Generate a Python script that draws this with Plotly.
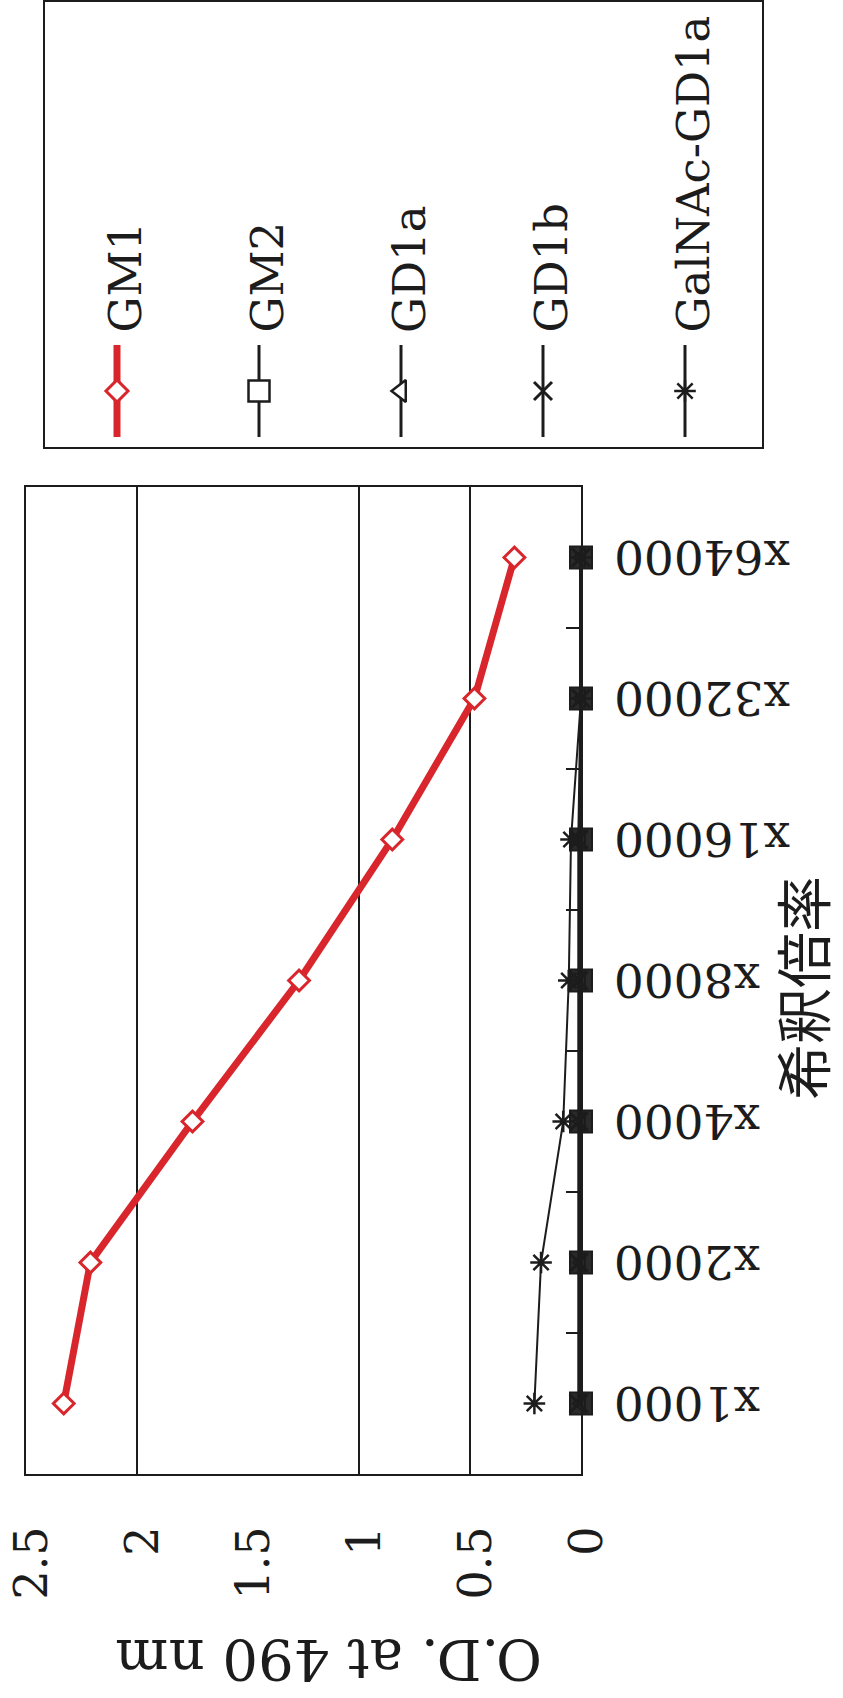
import plotly.graph_objects as go

# ---- data -------------------------------------------------------------
dilutions = ["x1000", "x2000", "x4000", "x8000", "x16000", "x32000", "x64000"]

gm1 = [2.33, 2.21, 1.75, 1.27, 0.85, 0.48, 0.30]
gm2 = [0.0, 0.0, 0.0, 0.0, 0.0, 0.0, 0.0]
gd1a = [0.0, 0.0, 0.0, 0.0, 0.0, 0.0, 0.0]
gd1b = [0.01, 0.01, 0.01, 0.01, 0.01, 0.0, 0.0]
galnac_gd1a = [0.21, 0.18, 0.08, 0.055, 0.045, 0.0, 0.0]

series_names = ["GM1", "GM2", "GD1a", "GD1b", "GalNAc-GD1a"]

od_ticks = [0, 0.5, 1, 1.5, 2, 2.5]
od_tick_text = ["0", "0.5", "1", "1.5", "2", "2.5"]
od_gridlines = [0.5, 1, 2]

# ---- page geometry (pixels) ------------------------------------------
W, H = 843, 1698
PLOT_L, PLOT_R, PLOT_T, PLOT_B = 26, 581, 487, 1474
LEG_L, LEG_R, LEG_T, LEG_B = 45, 762, 2, 447
CAT_LABEL_X = 612


def fx(px):
    return px / W


def fy(py):
    return (H - py) / H


SERIF = "DejaVu Serif"
INK = "#1c1c1c"
RED = "#d8262c"

styles = [
    dict(line=dict(color=RED, width=7),
         marker=dict(symbol="diamond", size=16, color="white",
                     line=dict(color=RED, width=3)),
         legend_marker=dict(symbol="diamond", size=17, color="white",
                            line=dict(color=RED, width=3))),
    dict(line=dict(color=INK, width=4),
         marker=dict(symbol="square", size=22, color="#2a2a2a",
                     line=dict(color=INK, width=2)),
         legend_marker=dict(symbol="square", size=21, color="white",
                            line=dict(color=INK, width=2.5))),
    dict(line=dict(color=INK, width=3),
         marker=dict(symbol="triangle-left", size=16, color="#2a2a2a",
                     line=dict(color=INK, width=2)),
         legend_marker=dict(symbol="triangle-left", size=19, color="white",
                            line=dict(color=INK, width=2.5))),
    dict(line=dict(color=INK, width=3),
         marker=dict(symbol="x-thin-open", size=18, color=INK,
                     line=dict(color=INK, width=3)),
         legend_marker=dict(symbol="x-thin-open", size=18, color=INK,
                            line=dict(color=INK, width=3))),
    dict(line=dict(color=INK, width=2),
         marker=dict(symbol="asterisk-open", size=18, color=INK,
                     line=dict(color=INK, width=2.5)),
         legend_marker=dict(symbol="asterisk-open", size=18, color=INK,
                            line=dict(color=INK, width=2.5))),
]

values = [gm1, gm2, gd1a, gd1b, galnac_gd1a]

fig = go.Figure()

# main series: O.D. runs along x (reversed), dilution along y
for name, vals, st in zip(series_names, values, styles):
    fig.add_trace(go.Scatter(
        x=vals, y=dilutions, name=name, mode="lines+markers",
        line=st["line"], marker=st["marker"], showlegend=False,
        xaxis="x", yaxis="y", cliponaxis=False,
    ))

annotations = []

# dilution labels, turned upside down beside the category axis
for d in dilutions:
    annotations.append(dict(
        text=d, x=fx(CAT_LABEL_X), y=d, xref="paper", yref="y",
        xanchor="left", yanchor="middle", textangle=180, showarrow=False,
        font=dict(family=SERIF, size=47, color=INK),
    ))

# legend panel drawn on its own pair of axes (pixel units)
LEG_X0, LEG_DX = 117, 142
LEG_LINE_Y0, LEG_LINE_Y1, LEG_MARK_Y, LEG_TEXT_Y = 345, 437, 391, 335
for i, (name, st) in enumerate(zip(series_names, styles)):
    lx = LEG_X0 + LEG_DX * i
    fig.add_trace(go.Scatter(
        x=[lx, lx], y=[LEG_LINE_Y0, LEG_LINE_Y1], mode="lines",
        line=st["line"] if i == 0 else dict(color=INK, width=3),
        showlegend=False, xaxis="x2", yaxis="y2", hoverinfo="skip",
    ))
    fig.add_trace(go.Scatter(
        x=[lx], y=[LEG_MARK_Y], mode="markers", marker=st["legend_marker"],
        showlegend=False, xaxis="x2", yaxis="y2", hoverinfo="skip",
    ))
    annotations.append(dict(
        text=name, x=lx + 8, y=LEG_TEXT_Y, xref="x2", yref="y2",
        xanchor="center", yanchor="bottom", textangle=-90, showarrow=False,
        font=dict(family=SERIF, size=45, color=INK),
    ))

# axis titles
annotations.append(dict(
    text="O.D. at 490 nm", x=fx(329), y=fy(1660), xref="paper", yref="paper",
    xanchor="center", yanchor="middle", textangle=180, showarrow=False,
    font=dict(family=SERIF, size=56, color=INK),
))
annotations.append(dict(
    text="希釈倍率", x=fx(800), y=fy(988), xref="paper", yref="paper",
    xanchor="center", yanchor="middle", textangle=-90, showarrow=False,
    font=dict(family="Noto Sans CJK JP", size=56, color=INK),
))

shapes = [
    dict(type="line", xref="x", yref="y domain", x0=g, x1=g, y0=0, y1=1,
         line=dict(color=INK, width=2), layer="below")
    for g in od_gridlines
]

fig.update_layout(
    width=W, height=H, autosize=False,
    margin=dict(l=0, r=0, t=0, b=0),
    paper_bgcolor="white", plot_bgcolor="white",
    showlegend=False,
    annotations=annotations,
    shapes=shapes,
    xaxis=dict(
        domain=[fx(PLOT_L), fx(PLOT_R)], range=[2.5, 0], anchor="y",
        tickmode="array", tickvals=od_ticks, ticktext=od_tick_text,
        tickangle=-90, ticks="", ticklabelstandoff=32, ticklabelshift=-6,
        ticklabeloverflow="allow",
        tickfont=dict(family=SERIF, size=46, color=INK),
        showgrid=False, zeroline=False, showline=True, mirror=True,
        linecolor=INK, linewidth=2, automargin=False, fixedrange=True,
    ),
    yaxis=dict(
        domain=[fy(PLOT_B), fy(PLOT_T)], anchor="x", side="right",
        type="category", categoryorder="array", categoryarray=dilutions,
        range=[-0.5, 6.5], showticklabels=False,
        ticks="inside", tickson="boundaries", ticklen=15, tickwidth=2,
        tickcolor=INK,
        showgrid=False, zeroline=False, showline=True, mirror=True,
        linecolor=INK, linewidth=2, automargin=False, fixedrange=True,
    ),
    xaxis2=dict(
        domain=[fx(LEG_L), fx(LEG_R)], range=[LEG_L, LEG_R], anchor="y2",
        showticklabels=False, ticks="", showgrid=False, zeroline=False,
        showline=True, mirror=True, linecolor=INK, linewidth=2,
        fixedrange=True,
    ),
    yaxis2=dict(
        domain=[fy(LEG_B), fy(LEG_T)], range=[LEG_B, LEG_T], anchor="x2",
        showticklabels=False, ticks="", showgrid=False, zeroline=False,
        showline=True, mirror=True, linecolor=INK, linewidth=2,
        fixedrange=True,
    ),
)

fig.write_html("out.html")
